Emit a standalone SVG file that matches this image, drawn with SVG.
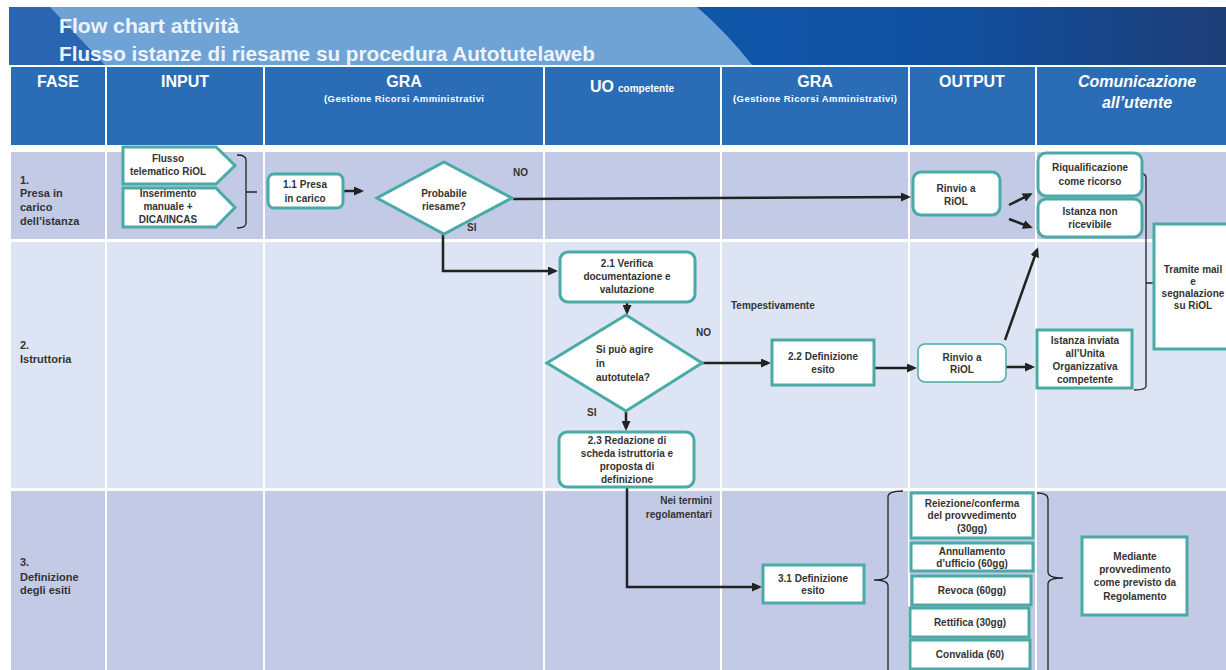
<svg xmlns="http://www.w3.org/2000/svg" width="1226" height="670" viewBox="0 0 1226 670">
  <defs>
    <linearGradient id="bandDark" x1="697" y1="0" x2="1226" y2="0" gradientUnits="userSpaceOnUse">
      <stop offset="0" stop-color="#0f56aa"/>
      <stop offset="0.5" stop-color="#114f9e"/>
      <stop offset="1" stop-color="#1e3e77"/>
    </linearGradient>
    <marker id="arr" viewBox="0 0 10 9" markerWidth="10" markerHeight="9" refX="7" refY="4.5" orient="auto" markerUnits="userSpaceOnUse">
      <path d="M0,0 L10,4.5 L0,9 Z" fill="#222"/>
    </marker>
    <style>
      .hd { fill: #2b6cb6; }
      .rd { fill: #c2cae6; }
      .rl { fill: #dde4f3; }
      .title { font-family: "Liberation Sans", Arial, sans-serif; font-weight: bold; font-size: 21px; fill: #eef3fa; }
      .ht { font-family: "Liberation Sans", Arial, sans-serif; font-weight: bold; font-size: 16px; fill: #ffffff; text-anchor: middle; }
      .hs { font-family: "Liberation Sans", Arial, sans-serif; font-weight: bold; font-size: 9.5px; fill: #ffffff; text-anchor: middle; }
      .ph { font-family: "Liberation Sans", Arial, sans-serif; font-weight: bold; font-size: 11px; fill: #333; }
      .t { font-family: "Liberation Sans", Arial, sans-serif; font-weight: bold; font-size: 10px; fill: #333; text-anchor: middle; }
      .tl { font-family: "Liberation Sans", Arial, sans-serif; font-weight: bold; font-size: 10px; fill: #333; }
      .box { fill: #ffffff; stroke: #4aaaa6; stroke-width: 3; }
      .thin { fill: #ffffff; stroke: #4aaaa6; stroke-width: 1.5; }
      .ln { fill: none; stroke: #222; stroke-width: 2.5; }
      .br { fill: none; stroke: #222; stroke-width: 1.3; }
    </style>
  </defs>

  <!-- title band -->
  <g id="banner">
    <rect x="9" y="7" width="1217" height="58" fill="#6fa3d6"/>
    <polygon points="9,7 50,7 105,65 9,65" fill="#2a65b2"/>
    <path d="M697 7 Q728 34 752 65 L1226 65 L1226 7 Z" fill="url(#bandDark)"/>
    <text class="title" x="59" y="33" textLength="180" lengthAdjust="spacingAndGlyphs">Flow chart attività</text>
    <text class="title" x="59" y="61" textLength="536" lengthAdjust="spacingAndGlyphs">Flusso istanze di riesame su procedura Autotutelaweb</text>
  </g>

  <!-- column headers -->
  <g id="headers">
    <rect class="hd" x="11" y="67" width="94" height="78"/>
    <rect class="hd" x="107" y="67" width="156" height="78"/>
    <rect class="hd" x="265" y="67" width="278" height="78"/>
    <rect class="hd" x="545" y="67" width="175" height="78"/>
    <rect class="hd" x="722" y="67" width="186" height="78"/>
    <rect class="hd" x="910" y="67" width="125" height="78"/>
    <rect class="hd" x="1037" y="67" width="189" height="78"/>
    <text class="ht" x="58" y="87">FASE</text>
    <text class="ht" x="185" y="87">INPUT</text>
    <text class="ht" x="404" y="87">GRA</text>
    <text class="hs" x="404" y="102" textLength="160">(Gestione Ricorsi Amministrativi</text>
    <text class="ht" x="590" y="92" style="text-anchor:start">UO<tspan font-size="10" dx="4">competente</tspan></text>
    <text class="ht" x="815" y="87">GRA</text>
    <text class="hs" x="815" y="102" textLength="164">(Gestione Ricorsi Amministrativi)</text>
    <text class="ht" x="1137" y="87" font-style="italic" font-size="14">Comunicazione</text>
    <text class="ht" x="1137" y="108" font-style="italic" font-size="14">all’utente</text>
    <text class="ht" x="972" y="87">OUTPUT</text>
  </g>

  <!-- swimlane rows -->
  <g id="lanes">
    <rect class="rd" x="11" y="152" width="94" height="87"/>
    <rect class="rd" x="107" y="152" width="156" height="87"/>
    <rect class="rd" x="265" y="152" width="278" height="87"/>
    <rect class="rd" x="545" y="152" width="175" height="87"/>
    <rect class="rd" x="722" y="152" width="186" height="87"/>
    <rect class="rd" x="910" y="152" width="125" height="87"/>
    <rect class="rd" x="1037" y="152" width="189" height="87"/>

    <rect class="rl" x="11" y="242" width="94" height="246"/>
    <rect class="rl" x="107" y="242" width="156" height="246"/>
    <rect class="rl" x="265" y="242" width="278" height="246"/>
    <rect class="rl" x="545" y="242" width="175" height="246"/>
    <rect class="rl" x="722" y="242" width="186" height="246"/>
    <rect class="rl" x="910" y="242" width="125" height="246"/>
    <rect class="rl" x="1037" y="242" width="189" height="246"/>

    <rect class="rd" x="11" y="491" width="94" height="185"/>
    <rect class="rd" x="107" y="491" width="156" height="185"/>
    <rect class="rd" x="265" y="491" width="278" height="185"/>
    <rect class="rd" x="545" y="491" width="175" height="185"/>
    <rect class="rd" x="722" y="491" width="186" height="185"/>
    <rect class="rd" x="910" y="491" width="125" height="185"/>
    <rect class="rd" x="1037" y="491" width="189" height="185"/>
  </g>

  <!-- phase labels -->
  <g id="phases">
    <text class="ph" x="20" y="184">1.</text>
    <text class="ph" x="20" y="197">Presa in</text>
    <text class="ph" x="20" y="211">carico</text>
    <text class="ph" x="20" y="225">dell’istanza</text>
    <text class="ph" x="20" y="349">2.</text>
    <text class="ph" x="20" y="362.5">Istruttoria</text>
    <text class="ph" x="20" y="566">3.</text>
    <text class="ph" x="20" y="580.5">Definizione</text>
    <text class="ph" x="20" y="594">degli esiti</text>
  </g>

  <!-- connectors -->
  <g id="connectors">
    <path class="ln" d="M343 191 H361" marker-end="url(#arr)"/>
    <path class="ln" d="M513 199 L908 197" marker-end="url(#arr)"/>
    <path class="ln" d="M443 234 V271 H555" marker-end="url(#arr)"/>
    <path class="ln" d="M1009 205 L1030 194.5" marker-end="url(#arr)"/>
    <path class="ln" d="M1009 219 L1030 227" marker-end="url(#arr)"/>
    <path class="ln" d="M627 302 V312" marker-end="url(#arr)"/>
    <path class="ln" d="M702 363 H768" marker-end="url(#arr)"/>
    <path class="ln" d="M874 368 H914" marker-end="url(#arr)"/>
    <path class="ln" d="M1005 340 L1037 250" marker-end="url(#arr)"/>
    <path class="ln" d="M1006 367 H1032" marker-end="url(#arr)"/>
    <path class="ln" d="M626 411 V428" marker-end="url(#arr)"/>
    <path class="ln" d="M627 487 V587 H759" marker-end="url(#arr)"/>
    <!-- braces -->
    <path class="br" d="M237 155 Q246 155 246 160 L246 223 Q246 228 237 228 M246 192 H257"/>
    <path class="br" d="M1142 174 Q1146 174 1146 178 L1146 386 Q1146 390 1134 390 M1146 283 H1153"/>
    <path class="br" d="M903 491 Q888 491 888 497 L888 574 Q888 580 874 580 Q888 580 888 586 L888 676"/>
    <path class="br" d="M1037 493 Q1048 493 1048 499 L1048 572 Q1048 578 1063 578 Q1048 578 1048 584 L1048 676"/>
  </g>

  <!-- connector labels -->
  <g id="labels">
    <text class="tl" x="513" y="176">NO</text>
    <text class="tl" x="467" y="231">SI</text>
    <text class="tl" x="696" y="336">NO</text>
    <text class="tl" x="587" y="416">SI</text>
    <text class="tl" x="731" y="309">Tempestivamente</text>
    <text class="tl" x="712" y="504" text-anchor="end">Nei termini</text>
    <text class="tl" x="712" y="518" text-anchor="end">regolamentari</text>
  </g>

  <!-- input: flusso telematico -->
  <g id="in-riol">
    <polygon class="box" points="123,147 216,147 235,165.5 216,184 123,184"/>
    <text class="t" x="168" y="162" font-size="9.5">Flusso</text>
    <text class="t" x="168" y="175" font-size="9.5">telematico RiOL</text>
  </g>

  <!-- input: inserimento manuale -->
  <g id="in-manuale">
    <polygon class="box" points="123,188 216,188 235,207.5 216,227 123,227"/>
    <text class="t" x="168" y="196.5" font-size="9.5">Inserimento</text>
    <text class="t" x="168" y="209.5" font-size="9.5">manuale +</text>
    <text class="t" x="168" y="222.5" font-size="9.5">DICA/INCAS</text>
  </g>

  <g id="n1-1">
    <rect class="box" x="268" y="174" width="75" height="34" rx="6"/>
    <text class="t" x="305" y="188">1.1 Presa</text>
    <text class="t" x="305" y="202">in carico</text>
  </g>

  <g id="d-riesame">
    <polygon class="box" points="444,162 512,198 444,234 377,198"/>
    <text class="t" x="444" y="197">Probabile</text>
    <text class="t" x="444" y="210">riesame?</text>
  </g>

  <g id="rinvio-1">
    <rect class="box" x="913" y="172" width="87" height="43" rx="8"/>
    <text class="t" x="956" y="192">Rinvio a</text>
    <text class="t" x="956" y="205">RiOL</text>
  </g>

  <g id="riqualificazione">
    <rect class="box" x="1038" y="153" width="104" height="43" rx="8" stroke-width="3.5"/>
    <text class="t" x="1090" y="171">Riqualificazione</text>
    <text class="t" x="1090" y="185">come ricorso</text>
  </g>

  <g id="non-ricevibile">
    <rect class="box" x="1038" y="199" width="104" height="38" rx="8" stroke-width="3.5"/>
    <text class="t" x="1090" y="215">Istanza non</text>
    <text class="t" x="1090" y="228">ricevibile</text>
  </g>

  <g id="tramite-mail">
    <rect class="box" x="1154" y="224" width="80" height="125" stroke-width="2.5"/>
    <text class="t" x="1193" y="273">Tramite mail</text>
    <text class="t" x="1193" y="285">e</text>
    <text class="t" x="1193" y="297">segnalazione</text>
    <text class="t" x="1193" y="309">su RiOL</text>
  </g>

  <g id="n2-1">
    <rect class="box" x="560" y="252" width="135" height="50" rx="8"/>
    <text class="t" x="627" y="267">2.1 Verifica</text>
    <text class="t" x="627" y="280">documentazione e</text>
    <text class="t" x="627" y="293">valutazione</text>
  </g>

  <g id="d-autotutela">
    <polygon class="box" points="626,315 702,363 626,411 547,363"/>
    <text class="tl" x="596" y="353">Si può agire</text>
    <text class="tl" x="596" y="367">in</text>
    <text class="tl" x="596" y="381">autotutela?</text>
  </g>

  <g id="n2-2">
    <rect class="box" x="772" y="340" width="102" height="45"/>
    <text class="t" x="823" y="360">2.2 Definizione</text>
    <text class="t" x="823" y="373">esito</text>
  </g>

  <g id="rinvio-2">
    <rect class="thin" x="918" y="344" width="88" height="38" rx="7"/>
    <text class="t" x="962" y="361">Rinvio a</text>
    <text class="t" x="962" y="373">RiOL</text>
  </g>

  <g id="istanza-inviata">
    <rect class="box" x="1037" y="330" width="95" height="58"/>
    <text class="t" x="1085" y="344">Istanza inviata</text>
    <text class="t" x="1085" y="357">all’Unita</text>
    <text class="t" x="1085" y="370">Organizzativa</text>
    <text class="t" x="1085" y="383">competente</text>
  </g>

  <g id="n2-3">
    <rect class="box" x="559" y="432" width="135" height="55" rx="8"/>
    <text class="t" x="627" y="444">2.3 Redazione di</text>
    <text class="t" x="627" y="457">scheda istruttoria e</text>
    <text class="t" x="627" y="470">proposta di</text>
    <text class="t" x="627" y="483">definizione</text>
  </g>

  <g id="n3-1">
    <rect class="box" x="763" y="565" width="101" height="38"/>
    <text class="t" x="813" y="582">3.1 Definizione</text>
    <text class="t" x="813" y="594">esito</text>
  </g>

  <g id="reiezione">
    <rect class="box" x="911" y="493" width="122" height="45"/>
    <text class="t" x="972" y="507">Reiezione/conferma</text>
    <text class="t" x="972" y="519">del provvedimento</text>
    <text class="t" x="972" y="532">(30gg)</text>
  </g>

  <g id="annullamento">
    <rect class="box" x="911" y="543" width="122" height="28"/>
    <text class="t" x="972" y="555">Annullamento</text>
    <text class="t" x="972" y="567">d’ufficio (60gg)</text>
  </g>

  <g id="revoca">
    <rect class="box" x="912" y="576" width="119" height="29"/>
    <text class="t" x="972" y="594">Revoca (60gg)</text>
  </g>

  <g id="rettifica">
    <rect class="box" x="910" y="608" width="119" height="29"/>
    <text class="t" x="970" y="626">Rettifica (30gg)</text>
  </g>

  <g id="convalida">
    <rect class="box" x="910" y="640" width="120" height="29"/>
    <text class="t" x="970" y="658">Convalida (60)</text>
  </g>

  <g id="mediante">
    <rect class="box" x="1082" y="537" width="105" height="78"/>
    <text class="t" x="1135" y="560">Mediante</text>
    <text class="t" x="1135" y="573">provvedimento</text>
    <text class="t" x="1135" y="586">come previsto da</text>
    <text class="t" x="1135" y="600">Regolamento</text>
  </g>
</svg>
